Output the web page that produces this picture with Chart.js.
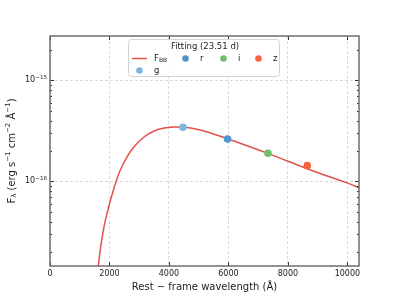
<!DOCTYPE html>
<html>
<head>
<meta charset="utf-8">
<script src="https://cdn.jsdelivr.net/npm/chart.js@4.4.1/dist/chart.umd.min.js"></script>
<style>html,body{margin:0;padding:0;background:#fff}</style>
</head>
<body>
<canvas id="chart" width="399" height="299"></canvas>
<script>
// fitted blackbody curve
const curveWave = [1560, 1630, 1682, 1760, 1861, 2007, 2153, 2270, 2388, 2590, 2800, 3027, 3300, 3600, 3900, 4200, 4500, 4900, 5400, 5970, 6700, 7330, 8000, 8650, 9316, 10010, 10450];
const curveFlux = [1.1e-17, 1.5e-17, 2.0e-17, 2.85e-17, 4.1e-17, 6.1e-17, 8.6e-17, 1.10e-16, 1.34e-16, 1.75e-16, 2.15e-16, 2.54e-16, 2.93e-16, 3.24e-16, 3.40e-16, 3.46e-16, 3.43e-16, 3.30e-16, 3.01e-16, 2.64e-16, 2.21e-16, 1.89e-16, 1.58e-16, 1.33e-16, 1.13e-16, 9.6e-17, 8.5e-17];

// photometry
const bandNames = ['g', 'r', 'i', 'z'];
const bandWave = [4470, 5970, 7330, 8650];
const bandFlux = [3.43e-16, 2.62e-16, 1.90e-16, 1.43e-16];
const bandColors = ['#7db6df', '#4b98d1', '#6cbf6c', '#f9623f'];

const xTicks = [0, 2000, 4000, 6000, 8000, 10000];
const yTicks = [1e-16, 1e-15];
const yTickExp = ['\u221216', '\u221215'];

const FONT = 'DejaVu Sans';
const lineColor = '#e0524b';

// draw a run of text pieces (normal / sub / sup), centred or left aligned
function drawRuns(ctx, runs, x, y, align) {
    let w = 0;
    runs.forEach(r => {
        ctx.font = `${r.size}px "${FONT}"`;
        r.w = ctx.measureText(r.t).width;
        w += r.w;
    });
    let cx = align === 'center' ? x - w / 2 : align === 'right' ? x - w : x;
    ctx.textBaseline = 'middle';
    ctx.textAlign = 'left';
    runs.forEach(r => {
        ctx.font = `${r.size}px "${FONT}"`;
        ctx.fillText(r.t, cx, y + (r.dy || 0));
        cx += r.w;
    });
}

const decorPlugin = {
    id: 'decor',
    afterDraw(chart) {
        const ctx = chart.ctx;
        const a = chart.chartArea;
        const xs = chart.scales.x, ys = chart.scales.y;
        ctx.save();

        // ticks, inward on all four sides
        ctx.strokeStyle = '#333';
        ctx.lineWidth = 1;
        xTicks.forEach(v => {
            const px = Math.round(xs.getPixelForValue(v)) + 0.5;
            ctx.beginPath();
            ctx.moveTo(px, a.bottom); ctx.lineTo(px, a.bottom - 4);
            ctx.moveTo(px, a.top); ctx.lineTo(px, a.top + 4);
            ctx.stroke();
        });
        for (let e = -18; e <= -15; e++) {
            for (let m = 1; m <= 9; m++) {
                const v = m * Math.pow(10, e);
                if (v < ys.min || v > ys.max) continue;
                const py = Math.round(ys.getPixelForValue(v)) + 0.5;
                const len = m === 1 ? 4 : 2;
                ctx.beginPath();
                ctx.moveTo(a.left, py); ctx.lineTo(a.left + len, py);
                ctx.moveTo(a.right, py); ctx.lineTo(a.right - len, py);
                ctx.stroke();
            }
        }

        // frame
        ctx.strokeStyle = '#6e6e6e';
        ctx.lineWidth = 1.5;
        ctx.strokeRect(a.left, a.top, a.right - a.left, a.bottom - a.top);

        // y tick labels 10^-16, 10^-15
        ctx.fillStyle = '#222';
        yTicks.forEach((v, i) => {
            const py = ys.getPixelForValue(v);
            drawRuns(ctx, [
                { t: '10', size: 8 },
                { t: yTickExp[i], size: 5.6, dy: -3 }
            ], a.left - 3, py, 'right');
        });

        // axis titles
        drawRuns(ctx, [{ t: 'Rest \u2212 frame wavelength (\u00c5)', size: 10 }], (a.left + a.right) / 2, 287, 'center');
        ctx.save();
        ctx.translate(12, (a.top + a.bottom) / 2);
        ctx.rotate(-Math.PI / 2);
        drawRuns(ctx, [
            { t: 'F', size: 10 },
            { t: '\u03bb', size: 7, dy: 2.5 },
            { t: ' (erg s', size: 10 },
            { t: '\u22121', size: 7, dy: -3.5 },
            { t: ' cm', size: 10 },
            { t: '\u22122', size: 7, dy: -3.5 },
            { t: ' \u00c5', size: 10 },
            { t: '\u22121', size: 7, dy: -3.5 },
            { t: ')', size: 10 }
        ], 0, 0, 'center');
        ctx.restore();

        // legend box
        const bx = 128.5, by = 39.5, bw = 151, bh = 37;
        ctx.beginPath();
        ctx.roundRect(bx, by, bw, bh, 3);
        ctx.fillStyle = 'rgba(255,255,255,0.85)';
        ctx.fill();
        ctx.strokeStyle = '#d4d4d4';
        ctx.lineWidth = 1;
        ctx.stroke();

        ctx.fillStyle = '#222';
        drawRuns(ctx, [{ t: 'Fitting (23.51 d)', size: 8.5 }], 205, 46.5, 'center');

        ctx.strokeStyle = lineColor;
        ctx.lineWidth = 1.5;
        ctx.beginPath();
        ctx.moveTo(132, 58.5); ctx.lineTo(147, 58.5);
        ctx.stroke();
        ctx.fillStyle = '#222';
        drawRuns(ctx, [{ t: 'F', size: 8.5 }, { t: 'BB', size: 6, dy: 2 }], 154, 58.5, 'left');

        const slots = { g: [139.5, 70.5], r: [185.5, 58.5], i: [223.5, 58.5], z: [258.5, 58.5] };
        bandNames.forEach((n, i) => {
            const [mx, my] = slots[n];
            ctx.fillStyle = bandColors[i];
            ctx.beginPath();
            ctx.arc(mx, my, 3.3, 0, Math.PI * 2);
            ctx.fill();
            ctx.fillStyle = '#222';
            drawRuns(ctx, [{ t: n, size: 8.5 }], mx + 14.5, my, 'left');
        });

        ctx.restore();
    }
};

const datasets = [{
    label: 'F_BB',
    data: curveWave.map((w, i) => ({ x: w, y: curveFlux[i] })),
    showLine: true,
    borderColor: lineColor,
    borderWidth: 1.5,
    pointRadius: 0,
    tension: 0.4,
    order: 2
}];
bandNames.forEach((n, i) => {
    datasets.push({
        label: n,
        data: [{ x: bandWave[i], y: bandFlux[i] }],
        backgroundColor: bandColors[i],
        borderWidth: 0,
        pointRadius: 3.8,
        order: 1
    });
});

new Chart(document.getElementById('chart'), {
    type: 'scatter',
    data: { datasets },
    options: {
        responsive: false,
        animation: false,
        layout: { padding: { top: 36, right: 40, left: 0, bottom: 0 } },
        plugins: { legend: { display: false }, tooltip: { enabled: false } },
        scales: {
            x: {
                type: 'linear',
                min: 0,
                max: 10390,
                afterBuildTicks: s => { s.ticks = xTicks.map(v => ({ value: v })); },
                afterFit: s => { s.height = 33; },
                grid: { color: '#d2d2d2', lineWidth: 0.8, drawTicks: false },
                border: { display: false, dash: [3, 2] },
                ticks: {
                    font: { family: FONT, size: 8 }, color: '#222', padding: 3, maxRotation: 0,
                    callback: v => String(v)
                }
            },
            y: {
                type: 'logarithmic',
                min: 1.45e-17,
                max: 2.75e-15,
                afterBuildTicks: s => { s.ticks = yTicks.map(v => ({ value: v })); },
                afterFit: s => { s.width = 50; },
                grid: { color: '#d2d2d2', lineWidth: 0.8, drawTicks: false },
                border: { display: false, dash: [3, 2] },
                ticks: { display: false }
            }
        }
    },
    plugins: [decorPlugin]
});
</script>
</body>
</html>
